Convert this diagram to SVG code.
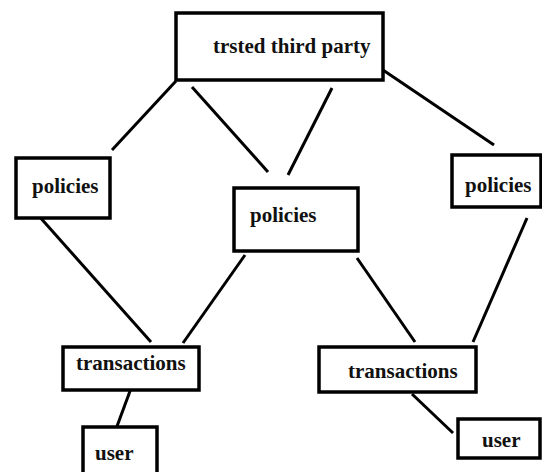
<svg xmlns="http://www.w3.org/2000/svg" width="542" height="472" viewBox="0 0 542 472">
<style>
.box{fill:#fff;stroke:#000;stroke-width:3.5}
.lbl{font-family:'Liberation Serif','DejaVu Serif',serif;font-weight:700;font-size:21px;fill:#111}
.edge{stroke:#000;stroke-width:3;fill:none}
</style>
<rect width="542" height="472" fill="#fff"/>
<g id="connectors">
<line class="edge" x1="176" y1="81" x2="112" y2="150"/>
<line class="edge" x1="192" y1="87" x2="268" y2="172"/>
<line class="edge" x1="332" y1="88" x2="288" y2="175"/>
<line class="edge" x1="380" y1="68" x2="494" y2="145"/>
<line class="edge" x1="38" y1="215" x2="151" y2="342"/>
<line class="edge" x1="245" y1="255" x2="183" y2="343"/>
<line class="edge" x1="357" y1="258" x2="415" y2="342"/>
<line class="edge" x1="527" y1="218" x2="473" y2="342"/>
<line class="edge" x1="133" y1="383" x2="116" y2="429"/>
<line class="edge" x1="412" y1="394" x2="453" y2="433"/>
</g>
<g id="ttp"><rect class="box" x="176" y="13" width="207" height="67"/><text class="lbl" x="213" y="53" font-family="Liberation Serif, serif">trsted third party</text></g>
<g id="policies-left"><rect class="box" x="16" y="158" width="94" height="60"/><text class="lbl" x="32" y="193">policies</text></g>
<g id="policies-mid"><rect class="box" x="234" y="188" width="124" height="63"/><text class="lbl" x="250" y="222">policies</text></g>
<g id="policies-right"><rect class="box" x="452" y="155" width="89" height="52"/><text class="lbl" x="465" y="192">policies</text></g>
<g id="transactions-left"><rect class="box" x="63" y="347" width="136" height="43"/><text class="lbl" x="76" y="370">transactions</text></g>
<g id="transactions-right"><rect class="box" x="319" y="347" width="157" height="45"/><text class="lbl" x="348" y="378">transactions</text></g>
<g id="user-left"><rect class="box" x="83" y="427" width="74" height="50"/><text class="lbl" x="95" y="460">user</text></g>
<g id="user-right"><rect class="box" x="458" y="419" width="82" height="39"/><text class="lbl" x="482" y="447">user</text></g>
</svg>
